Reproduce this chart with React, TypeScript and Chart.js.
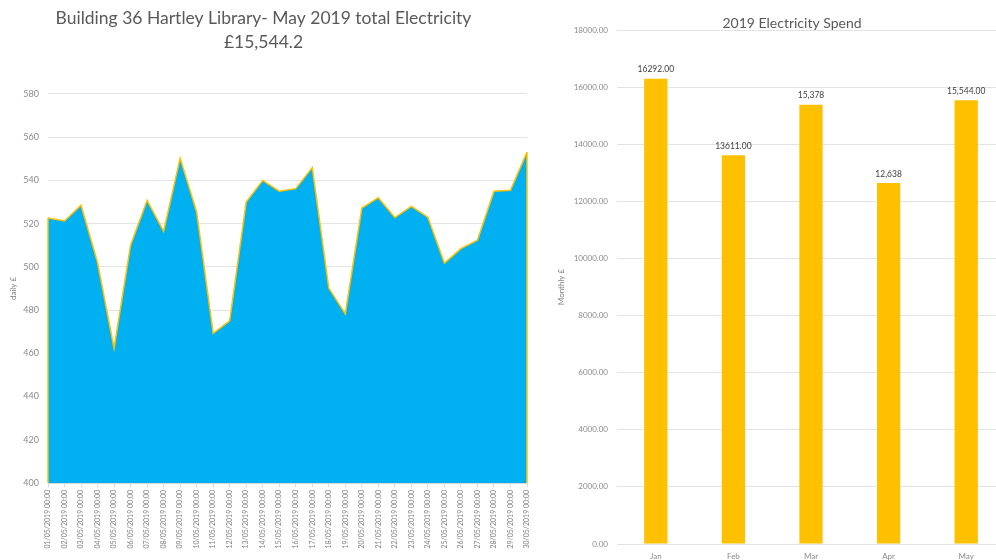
import React, { useEffect, useRef } from "react";
import { Chart, registerables } from "chart.js";
Chart.register(...registerables);

const dayLabels = [
  "01/05/2019 00:00", "02/05/2019 00:00", "03/05/2019 00:00", "04/05/2019 00:00", "05/05/2019 00:00",
  "06/05/2019 00:00", "07/05/2019 00:00", "08/05/2019 00:00", "09/05/2019 00:00", "10/05/2019 00:00",
  "11/05/2019 00:00", "12/05/2019 00:00", "13/05/2019 00:00", "14/05/2019 00:00", "15/05/2019 00:00",
  "16/05/2019 00:00", "17/05/2019 00:00", "18/05/2019 00:00", "19/05/2019 00:00", "20/05/2019 00:00",
  "21/05/2019 00:00", "22/05/2019 00:00", "23/05/2019 00:00", "24/05/2019 00:00", "25/05/2019 00:00",
  "26/05/2019 00:00", "27/05/2019 00:00", "28/05/2019 00:00", "29/05/2019 00:00", "30/05/2019 00:00",
];
const dailySpend = [
  522.6, 521.2, 528.5, 502, 462.3, 510, 530.8, 516.4, 550.3, 525.4,
  469.2, 475, 530, 540, 535, 536.2, 545.9, 490.2, 478.2, 527.2,
  532, 522.8, 528, 523, 501.7, 508.4, 512.3, 535, 535.4, 553.1,
];
const months = ["Jan", "Feb", "Mar", "Apr", "May"];
const monthlySpend = [16292, 13611, 15378, 12638, 15544];
const monthlyValueLabels = ["16292.00", "13611.00", "15,378", "12,638", "15,544.00"];
const leftTitle = ["Building 36 Hartley Library- May 2019 total Electricity", "£15,544.2"];
const rightTitle = "2019 Electricity Spend";
const leftAxisTitle = "daily £";
const rightAxisTitle = "Monthly £";

const FONT = "Lato, 'Open Sans', sans-serif";
const GRID = "#e3e3e3";
const TICK = "#8a8a8a";

const edgePlugin = {
  id: "areaEdges",
  afterDatasetsDraw(chart: any) {
    const meta = chart.getDatasetMeta(0);
    const pts = meta.data;
    if (!pts || !pts.length) return;
    const ctx = chart.ctx;
    const bottom = chart.chartArea.bottom;
    ctx.save();
    ctx.strokeStyle = "#FFC000";
    ctx.lineWidth = 1.5;
    [pts[0], pts[pts.length - 1]].forEach((p: any) => {
      ctx.beginPath();
      ctx.moveTo(p.x, p.y);
      ctx.lineTo(p.x, bottom);
      ctx.stroke();
    });
    ctx.restore();
  },
};

const barLabelPlugin = {
  id: "barLabels",
  afterDatasetsDraw(chart: any) {
    const meta = chart.getDatasetMeta(0);
    const ctx = chart.ctx;
    ctx.save();
    ctx.font = `8.5px ${FONT}`;
    ctx.fillStyle = "#404040";
    ctx.textAlign = "center";
    ctx.textBaseline = "bottom";
    meta.data.forEach((bar: any, i: number) => {
      ctx.fillText(monthlyValueLabels[i], bar.x, bar.y - 5);
    });
    ctx.restore();
  },
};

// Excel-style chart title: centred on the whole chart object, overlapping the plot top slightly
const overlayTitlePlugin = {
  id: "overlayTitle",
  afterDraw(chart: any) {
    const ctx = chart.ctx;
    ctx.save();
    ctx.font = `14px ${FONT}`;
    ctx.fillStyle = "#595959";
    ctx.textAlign = "center";
    ctx.textBaseline = "middle";
    ctx.fillText(rightTitle, chart.width / 2, 23.5);
    ctx.restore();
  },
};

export default function App() {
  const leftRef = useRef<HTMLCanvasElement | null>(null);
  const rightRef = useRef<HTMLCanvasElement | null>(null);

  useEffect(() => {
    const left = new Chart(leftRef.current as HTMLCanvasElement, {
      type: "line",
      data: {
        labels: dayLabels,
        datasets: [
          {
            data: dailySpend,
            borderColor: "#FFC000",
            borderWidth: 1.5,
            backgroundColor: "#00B0F0",
            fill: "start",
            pointRadius: 0,
            tension: 0,
          },
        ],
      },
      options: {
        animation: false,
        responsive: false,
        maintainAspectRatio: false,
        layout: { padding: { left: 0, right: 13, top: 0, bottom: 0 } },
        plugins: {
          legend: { display: false },
          tooltip: { enabled: false },
          title: {
            display: true,
            text: leftTitle,
            color: "#595959",
            font: { family: FONT, size: 17.5, weight: "normal", lineHeight: 1.37 },
            padding: { top: 6, bottom: 40 },
          },
        },
        scales: {
          x: {
            grid: {
              display: true,
              drawOnChartArea: false,
              drawTicks: true,
              tickLength: 4,
              color: "#d9d9d9",
            },
            border: { display: true, color: "#d9d9d9" },
            ticks: {
              autoSkip: false,
              minRotation: 90,
              maxRotation: 90,
              padding: 3,
              color: "#7f7f7f",
              font: { family: FONT, size: 7 },
            },
            afterFit: (s: any) => {
              s.height = 77;
            },
          },
          y: {
            min: 400,
            max: 580,
            grid: { color: GRID, drawTicks: false, lineWidth: 1 },
            border: { display: false },
            ticks: {
              stepSize: 20,
              padding: 9,
              color: TICK,
              font: { family: FONT, size: 9 },
            },
            title: {
              display: true,
              text: leftAxisTitle,
              color: "#7f7f7f",
              font: { family: FONT, size: 8 },
              padding: { top: 9, bottom: 0 },
            },
            afterFit: (s: any) => {
              s.width = 48;
            },
          },
        },
      },
      plugins: [edgePlugin],
    } as any);

    const right = new Chart(rightRef.current as HTMLCanvasElement, {
      type: "bar",
      data: {
        labels: months,
        datasets: [
          {
            data: monthlySpend,
            backgroundColor: "#FFC000",
            barPercentage: 0.6,
            categoryPercentage: 0.5,
          },
        ],
      },
      options: {
        animation: false,
        responsive: false,
        maintainAspectRatio: false,
        layout: { padding: { left: 0, right: 39, top: 30, bottom: 0 } },
        plugins: {
          legend: { display: false },
          tooltip: { enabled: false },
          title: { display: false },
        },
        scales: {
          x: {
            grid: { display: false, drawTicks: false },
            border: { display: false },
            ticks: {
              padding: 8,
              color: TICK,
              font: { family: FONT, size: 8 },
            },
            afterFit: (s: any) => {
              s.height = 16;
            },
          },
          y: {
            min: 0,
            max: 18000,
            grid: { color: GRID, drawTicks: false },
            border: { display: false },
            ticks: {
              stepSize: 2000,
              padding: 9,
              color: TICK,
              font: { family: FONT, size: 8 },
              callback: (v: any) => Number(v).toFixed(2),
            },
            title: {
              display: true,
              text: rightAxisTitle,
              color: "#7f7f7f",
              font: { family: FONT, size: 8 },
              padding: { top: 17, bottom: 0 },
            },
            afterFit: (s: any) => {
              s.width = 77;
            },
          },
        },
      },
      plugins: [barLabelPlugin, overlayTitlePlugin],
    } as any);

    return () => {
      left.destroy();
      right.destroy();
    };
  }, []);

  return (
    <div
      style={{
        position: "fixed",
        left: 0,
        top: 0,
        width: 996,
        height: 560,
        overflow: "hidden",
        background: "#ffffff",
      }}
    >
      <canvas
        ref={leftRef}
        width={540}
        height={560}
        style={{ position: "absolute", left: 0, top: 0, width: 540, height: 560 }}
      />
      <canvas
        ref={rightRef}
        width={504}
        height={560}
        style={{ position: "absolute", left: 540, top: 0, width: 504, height: 560 }}
      />
    </div>
  );
}
